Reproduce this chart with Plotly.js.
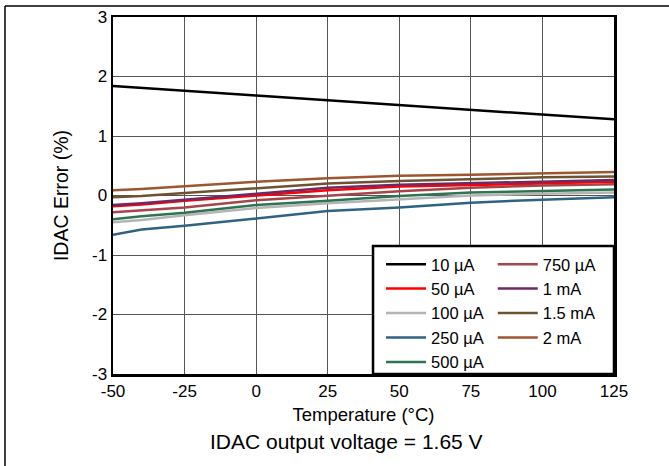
<!DOCTYPE html>
<html>
<head>
<meta charset="utf-8">
<script src="https://cdn.plot.ly/plotly-3.0.1.min.js"></script>
<style>html,body{margin:0;padding:0;background:#fff;}#chart{width:669px;height:466px;}</style>
</head>
<body>
<div id="chart"></div>
<script>
// Temperature points (°C)
const temps = [-50, -40, -25, 0, 25, 50, 75, 100, 125];
// IDAC error (%) per output current
const err10uA  = [1.84, 1.81, 1.76, 1.68, 1.60, 1.52, 1.44, 1.36, 1.28];
const err50uA  = [-0.18, -0.15, -0.09, 0.00, 0.09, 0.15, 0.18, 0.21, 0.23];
const err100uA = [-0.45, -0.41, -0.33, -0.21, -0.13, -0.06, 0.00, 0.03, 0.05];
const err250uA = [-0.66, -0.57, -0.51, -0.38, -0.26, -0.20, -0.12, -0.07, -0.03];
const err500uA = [-0.40, -0.35, -0.29, -0.16, -0.09, -0.01, 0.05, 0.08, 0.10];
const err750uA = [-0.28, -0.25, -0.20, -0.08, 0.00, 0.07, 0.13, 0.17, 0.19];
const err1mA   = [-0.16, -0.13, -0.07, 0.03, 0.13, 0.18, 0.21, 0.24, 0.26];
const err1p5mA = [-0.03, -0.01, 0.04, 0.12, 0.20, 0.245, 0.28, 0.305, 0.32];
const err2mA   = [0.09, 0.11, 0.155, 0.23, 0.29, 0.33, 0.35, 0.375, 0.395];

const seriesNames = ['10 \u00b5A', '50 \u00b5A', '100 \u00b5A', '250 \u00b5A', '500 \u00b5A',
                     '750 \u00b5A', '1 mA', '1.5 mA', '2 mA'];
const seriesData = [err10uA, err50uA, err100uA, err250uA, err500uA, err750uA, err1mA, err1p5mA, err2mA];
const seriesColors = ['#000000', '#ff0000', '#b4b4b4', '#2f6383', '#2e7452',
                      '#a84349', '#6e2a66', '#6f5331', '#9c5630'];

const xTickVals = [-50, -25, 0, 25, 50, 75, 100, 125];
const xTickText = ['-50', '-25', '0', '25', '50', '75', '100', '125'];
const yTickVals = [-3, -2, -1, 0, 1, 2, 3];
const yTickText = ['-3', '-2', '-1', '0', '1', '2', '3'];

const FONT = 'Liberation Sans, Arial, sans-serif';

const traces = seriesData.map((ys, i) => ({
  x: temps, y: ys, type: 'scatter', mode: 'lines', name: seriesNames[i],
  line: {color: seriesColors[i], width: 2.5},
  legend: i < 5 ? 'legend' : 'legend2'
}));

const layout = {
  width: 669, height: 466,
  margin: {l: 113, r: 55, t: 17, b: 92},
  paper_bgcolor: '#fff', plot_bgcolor: '#fff',
  font: {family: FONT, size: 16, color: '#000'},
  xaxis: {
    range: [-50, 125], tickvals: xTickVals, ticktext: xTickText,
    showgrid: true, gridcolor: '#555', gridwidth: 1,
    showline: true, linecolor: '#000', linewidth: 2.5, mirror: true,
    zeroline: false, ticks: '', tickfont: {size: 17},
    title: {text: 'Temperature (\u00b0C)', font: {size: 18.5}, standoff: 8}
  },
  yaxis: {
    range: [-3, 3], tickvals: yTickVals, ticktext: yTickText,
    showgrid: true, gridcolor: '#555', gridwidth: 1,
    showline: true, linecolor: '#000', linewidth: 2.5, mirror: true,
    zeroline: false, ticks: 'inside', ticklen: 5, tickcolor: '#555', tickfont: {size: 17},
    title: {text: 'IDAC Error (%)', font: {size: 19.5}, standoff: 18}
  },
  showlegend: true,
  legend: {x: 0.535, y: 0.356, xanchor: 'left', yanchor: 'top', bgcolor: 'rgba(0,0,0,0)',
           borderwidth: 0, font: {size: 16.5}, tracegroupgap: 0, itemwidth: 40},
  legend2: {x: 0.758, y: 0.356, xanchor: 'left', yanchor: 'top', bgcolor: 'rgba(0,0,0,0)',
           borderwidth: 0, font: {size: 16.5}, tracegroupgap: 0, itemwidth: 40},
  shapes: [
    {type: 'rect', xref: 'paper', yref: 'paper', x0: 0.519, x1: 1, y0: 0, y1: 0.3585,
     line: {color: '#000', width: 2.5}, fillcolor: '#fff', layer: 'above'},
    {type: 'line', xref: 'paper', yref: 'paper', x0: -0.2156, x1: 1.12, y0: 1.0308, y1: 1.0308,
     line: {color: '#000', width: 1.5}},
    {type: 'line', xref: 'paper', yref: 'paper', x0: -0.2156, x1: -0.2156, y0: 1.0308, y1: -0.27,
     line: {color: '#000', width: 1.5}}
  ],
  annotations: [
    {text: 'IDAC output voltage = 1.65 V', xref: 'paper', yref: 'paper', x: 0.467, y: -0.188,
     xanchor: 'center', yanchor: 'middle', showarrow: false, font: {size: 21}}
  ]
};

Plotly.newPlot('chart', traces, layout, {displayModeBar: false, staticPlot: true});
</script>
</body>
</html>
